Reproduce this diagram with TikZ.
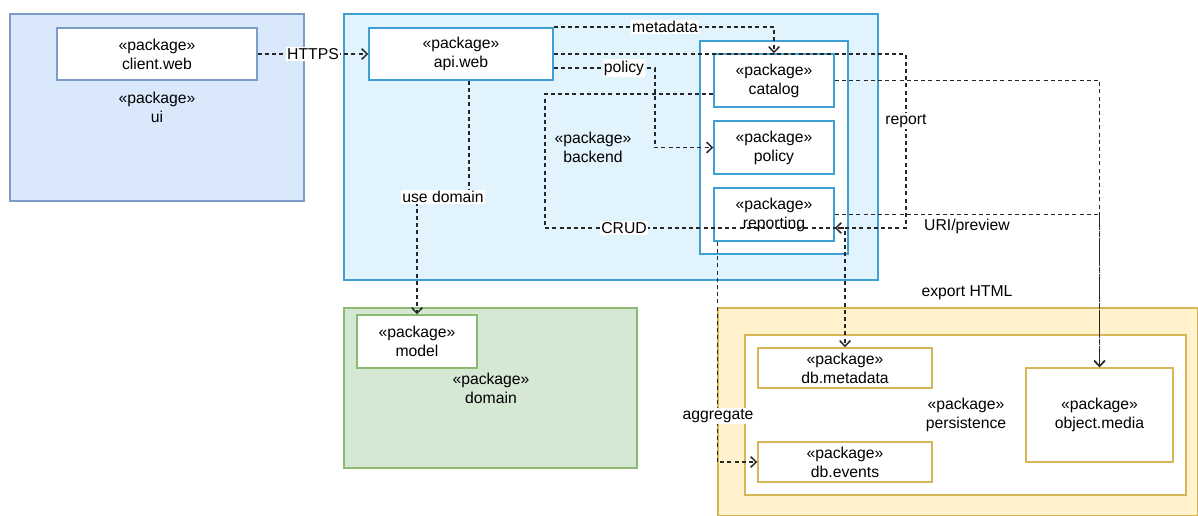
\documentclass[tikz,border=0pt]{standalone}
\usepackage{fontspec}
\setmainfont{Liberation Sans}
\usetikzlibrary{arrows.meta,fit}
\definecolor{uiF}{HTML}{DAE8FC}
\definecolor{uiS}{HTML}{7D9CC9}
\definecolor{beF}{HTML}{E1F4FD}
\definecolor{beS}{HTML}{3FA0D8}
\definecolor{doF}{HTML}{D5E8D4}
\definecolor{doS}{HTML}{8DBA73}
\definecolor{peF}{HTML}{FFF2CC}
\definecolor{peS}{HTML}{D6B656}
\definecolor{ln}{HTML}{262626}
\begin{document}
\begin{tikzpicture}[x=0.75pt,y=-0.75pt,
  font=\fontsize{11.8}{14.2}\selectfont,
  frame/.style={draw, line width=1.1pt, inner sep=0pt},
  box/.style={draw, line width=1.1pt, inner sep=0pt, align=center, fill=white},
  ttl/.style={align=center, inner sep=0pt},
  dep/.style={draw=ln, line width=1.15pt, dash pattern=on 3pt off 2.4pt,
    -{Straight Barb[length=4.2pt,width=8pt,line width=1.1pt]}},
  lbl/.style={fill=white, inner sep=1pt}]
\useasboundingbox (0,0) rectangle (1198,516);

% containers
\node[frame, draw=uiS, fill=uiF, fit={(10,14) (304,201)}] (ui) {};
\node[ttl] (uittl) at (157,107) {«package»\\ui};
\node[box, draw=uiS, minimum width=150pt, minimum height=39pt] (client) at (157,54) {«package»\\client.web};

\node[frame, draw=beS, fill=beF, fit={(344,14) (878,280)}] (backend) {};
\node[ttl] (bettl) at (593,147) {«package»\\backend};
\node[box, draw=beS, minimum width=138pt, minimum height=39pt] (api) at (461,54) {«package»\\api.web};
\node[frame, draw=beS, fill=white, fit={(700,41) (848,254)}] (inner) {};
\node[box, draw=beS, minimum width=90pt, minimum height=39.75pt] (catalog) at (774,80.5) {«package»\\catalog};
\node[box, draw=beS, minimum width=90pt, minimum height=39.75pt] (policy) at (774,147.5) {«package»\\policy};
\node[box, draw=beS, minimum width=90pt, minimum height=39.75pt] (reporting) at (774,214.5) {«package»\\reporting};

\node[frame, draw=doS, fill=doF, fit={(344,308) (637,468)}] (domain) {};
\node[ttl] (dottl) at (491,388) {«package»\\domain};
\node[box, draw=doS, minimum width=90pt, minimum height=39.75pt] (model) at (417,341.5) {«package»\\model};

\node[frame, draw=peS, fill=peF, fit={(718,308) (1198,516)}] (persout) {};
\node[frame, draw=peS, fill=white, fit={(745,335) (1186,495)}] (persin) {};
\node[ttl] (pettl) at (966,415) {«package»\\persistence};
\node[box, draw=peS, minimum width=130.5pt, minimum height=30pt] (dbmeta) at (845,368) {«package»\\db.metadata};
\node[box, draw=peS, minimum width=130.5pt, minimum height=30pt] (dbevents) at (845,462) {«package»\\db.events};
\node[box, draw=peS, minimum width=110.25pt, minimum height=70.5pt] (media) at (1099.5,415) {«package»\\object.media};

% connectors
\draw[dep] (client.east) -- (api.west);
\draw[dep] (api.north east) -| (catalog.north);
\draw[dep] (api.east) -| (906,228) -- (reporting.east |- 0,228);
\draw[dep] (api.east |- 0,68) -| (655,147.5) -- (policy.west);
\draw[dep] (catalog.west |- 0,94) -| (545,228) -| (dbmeta.north);
\draw[dep] (catalog.east) -| (media.north);
\draw[dep] (reporting.east) -| (media.north);
\draw[dep] ([xshift=3pt]reporting.south west) |- (dbevents.west);
\draw[dep] (api.south -| 469,0) -- (469,197) -| (model.north);

% labels
\node[lbl] (l1) at (313,54) {HTTPS};
\node[lbl] (l2) at (665,27) {metadata};
\node[lbl] (l3) at (624,68) {policy};
\node[lbl] (l4) at (906,121) {report};
\node[lbl] (l5) at (624,228) {CRUD};
\node[lbl] (l6) at (443,197) {use domain};
\node[lbl] (l7) at (718,416) {aggregate};
\node[lbl] (l8) at (967,226) {URI/preview};
\node[lbl] (l9) at (967,293) {export HTML};
\end{tikzpicture}
\end{document}
